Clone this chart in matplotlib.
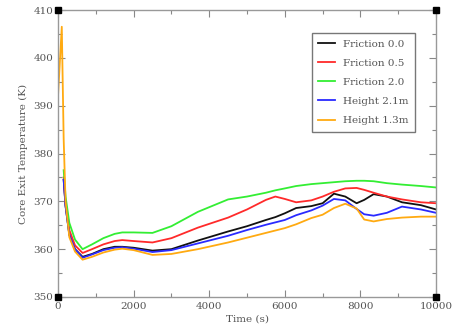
import numpy as np
import matplotlib
matplotlib.use('Agg')
import matplotlib.pyplot as plt
from matplotlib.ticker import MultipleLocator

# time grid (s); early points are NaN for series that start later
TIME = [0, 100, 150, 200, 300, 450, 650, 900, 1200, 1500, 1700, 2000, 2500,
        3000, 3700, 4500, 5000, 5500, 5750, 6000, 6300, 6700, 7000, 7300,
        7600, 7900, 8100, 8350, 8700, 9100, 9600, 10000]
nan = np.nan

FRICTION_00 = [nan, nan, 374.5, 369.0, 363.0, 360.0, 358.4, 359.0, 360.0, 360.5,
               360.5, 360.3, 359.7, 360.0, 361.8, 363.7, 364.8, 366.1, 366.7,
               367.5, 368.6, 369.0, 369.6, 371.6, 371.0, 369.6, 370.3, 371.5,
               371.0, 369.8, 369.2, 368.3]
FRICTION_05 = [nan, nan, 375.0, 369.5, 364.0, 360.8, 359.2, 360.0, 361.0, 361.7,
               361.9, 361.7, 361.4, 362.3, 364.5, 366.6, 368.3, 370.3, 371.0,
               370.5, 369.8, 370.2, 371.0, 372.0, 372.7, 372.8, 372.4, 371.8,
               371.0, 370.4, 369.8, 369.6]
FRICTION_20 = [nan, nan, 376.5, 371.0, 365.5, 362.0, 360.0, 361.0, 362.3, 363.2,
               363.5, 363.5, 363.4, 364.8, 367.8, 370.4, 371.0, 371.8, 372.3,
               372.7, 373.2, 373.6, 373.8, 374.0, 374.2, 374.3, 374.3, 374.2,
               373.8, 373.5, 373.2, 372.9]
HEIGHT_21 = [nan, nan, 374.5, 369.0, 363.0, 360.0, 358.2, 358.9, 359.8, 360.3,
             360.4, 360.1, 359.4, 359.8, 361.2, 362.8, 364.0, 365.1, 365.6,
             366.1, 367.1, 368.1, 369.1, 370.5, 370.2, 368.4, 367.3, 367.0,
             367.6, 368.9, 368.3, 367.6]
HEIGHT_13 = [392.0, 406.5, 383.0, 370.0, 362.5, 359.5, 357.8, 358.4, 359.3, 359.9,
             360.1, 359.8, 358.8, 359.0, 360.0, 361.4, 362.4, 363.4, 363.9,
             364.4, 365.2, 366.5, 367.2, 368.6, 369.5, 368.5, 366.2, 365.8,
             366.3, 366.6, 366.8, 366.8]

SERIES = [
    ('Friction 0.0', FRICTION_00, '#111111'),
    ('Friction 0.5', FRICTION_05, '#ff2a2a'),
    ('Friction 2.0', FRICTION_20, '#33ee33'),
    ('Height 2.1m', HEIGHT_21, '#2a2aff'),
    ('Height 1.3m', HEIGHT_13, '#ffaa11'),
]

GRAY = '#555555'
plt.rcParams['font.family'] = ['DejaVu Serif']

fig = plt.figure(figsize=(4.56, 3.36), dpi=100)
ax = fig.add_axes([58 / 456, 1 - 297 / 336, 378 / 456, 287 / 336])

for label, vals, color in SERIES:
    ax.plot(TIME, vals, color=color, lw=1.3, label=label)

ax.set_xlim(0, 10000)
ax.set_ylim(350, 410)
ax.xaxis.set_major_locator(MultipleLocator(2000))
ax.xaxis.set_minor_locator(MultipleLocator(1000))
ax.yaxis.set_major_locator(MultipleLocator(10))
ax.yaxis.set_minor_locator(MultipleLocator(5))
ax.tick_params(which='both', direction='in', top=True, right=True,
               colors='#888888', labelcolor=GRAY, labelsize=7.5, width=0.8)
ax.tick_params(which='major', length=5)
ax.tick_params(which='minor', length=3)
for sp in ax.spines.values():
    sp.set_color('#999999')
    sp.set_linewidth(1.0)

# black corner squares
ax.plot([0, 10000, 0, 10000], [350, 350, 410, 410], 's', color='black',
        ms=5, clip_on=False, zorder=5)

ax.set_xlabel('Time (s)', fontsize=7.5, color=GRAY, labelpad=3)
ax.set_ylabel('Core Exit Temperature (K)', fontsize=7.5, color=GRAY, labelpad=4)

leg = ax.legend(loc='upper right', bbox_to_anchor=(0.944, 0.92), fontsize=7.5,
                fancybox=False, framealpha=1, edgecolor='#777777',
                handlelength=1.6, borderaxespad=0, labelspacing=0.95,
                borderpad=0.6)
for txt in leg.get_texts():
    txt.set_color(GRAY)

fig.savefig('out.png', dpi=100)
